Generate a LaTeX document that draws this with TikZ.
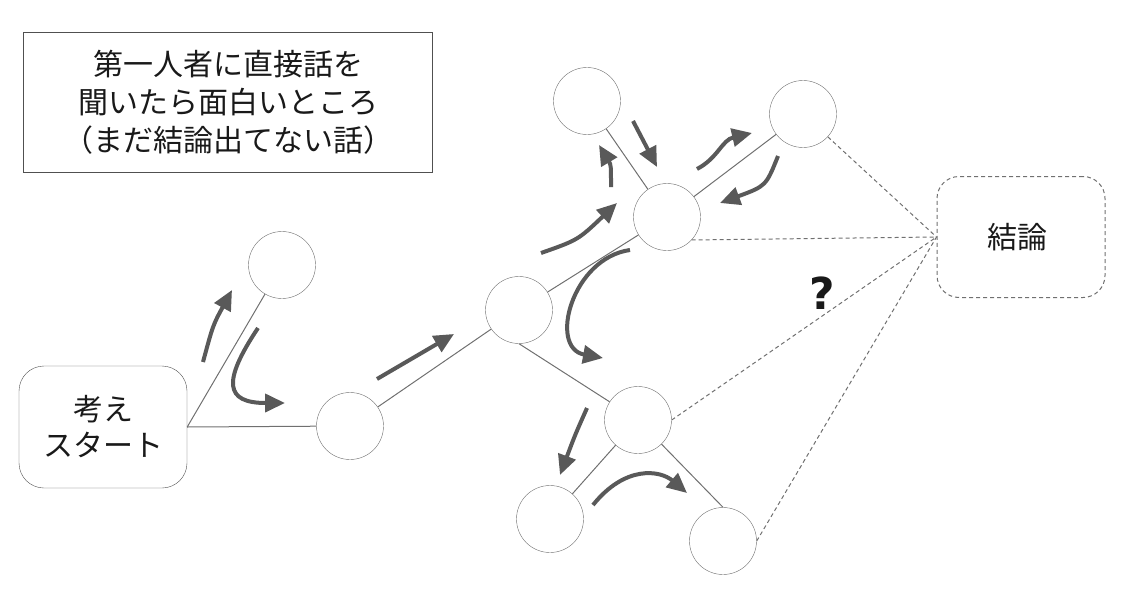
\documentclass[tikz,border=0pt]{standalone}
\usepackage{fontspec}
\newfontfamily\jpfont{Noto Sans CJK JP}
\newfontfamily\qfont{DejaVu Sans}
\usetikzlibrary{positioning,arrows.meta}
\definecolor{linegray}{HTML}{707070}
\definecolor{boxgray}{HTML}{505050}
\definecolor{arrowgray}{HTML}{595959}

\begin{document}
\begin{tikzpicture}[x = 1pt, y = -1pt,
    every node/.style = { align = center, text = black!90, font = \jpfont\fontsize{30}{38}\selectfont },
    idea/.style = { draw = linegray, shape = circle, minimum size = 67pt, inner sep = 0pt },
    link/.style = { draw = linegray, line width = 1pt },
    guess/.style = { draw = linegray, line width = 1pt, dash pattern = on 4pt off 3pt },
    flow/.style = { draw = arrowgray, line width = 4pt, -{Triangle[length = 20pt, width = 18pt]} }
  ]
  \useasboundingbox (0,0) rectangle (1123,607);

  % boxes
  \node [draw = boxgray, minimum width = 409pt, minimum height = 140pt] (note) at (228,102)
    { 第一人者に直接話を \\ 聞いたら面白いところ \\ （まだ結論出てない話） };
  \node [draw = boxgray, rounded corners = 25pt, minimum width = 168pt, minimum height = 122pt,
    font = \jpfont\fontsize{30}{36}\selectfont] (start) at (103,427) { 考え \\ スタート };
  \node [guess, rounded corners = 22pt, minimum width = 168pt, minimum height = 121pt] (goal) at (1021,237) { 結論 };

  % thoughts
  \node [idea] (a) at (282,265) {};
  \node [idea] (b) at (350,426) {};
  \node [idea] (c) at (519,310) {};
  \node [idea] (d) at (667,217) {};
  \node [idea] (e) at (587,101) {};
  \node [idea] (f) at (803,114) {};
  \node [idea] (g) at (638,420) {};
  \node [idea] (h) at (550,519) {};
  \node [idea] (i) at (723,541) {};

  \draw [link] (start.east) -- (a);
  \draw [link] (start.east) -- (b);
  \draw [link] (b) -- (c);
  \draw [link] (c) -- (d);
  \draw [link] (d) -- (e);
  \draw [link] (d) -- (f);
  \draw [link] (c.south) -- (g);
  \draw [link] (g) -- (h);
  \draw [link] (g) -- (i.north);

  \draw [guess] (f) -- (goal.west);
  \draw [guess] (d.-43) -- (goal.west);
  \draw [guess] (g.east) -- (goal.west);
  \draw [guess] (i.east) -- (goal.west);
  \node [font = \qfont\bfseries\fontsize{44}{44}\selectfont] (q) at (822,293) {?};

  % wandering
  \draw [flow] (203,362) .. controls (213,325) .. (232,290);
  \draw [flow] (258,328) .. controls (222,382) and (225,403) .. (285,403);
  \draw [flow] (377,379) -- (454,334);
  \draw [flow] (541,253) .. controls (578,240) .. (617,203);
  \draw [flow] (611,187) .. controls (611,165) .. (599,145);
  \draw [flow] (633,121) -- (657,167);
  \draw [flow] (697,169) .. controls (718,158) and (722,140) .. (752,133);
  \draw [flow] (778,156) .. controls (766,186) .. (720,203);
  \draw [flow] (630,250) .. controls (572,258) and (548,348) .. (603,358);
  \draw [flow] (587,408) .. controls (575,435) .. (560,475);
  \draw [flow] (593,505) .. controls (625,465) and (660,470) .. (687,493);
\end{tikzpicture}
\end{document}
